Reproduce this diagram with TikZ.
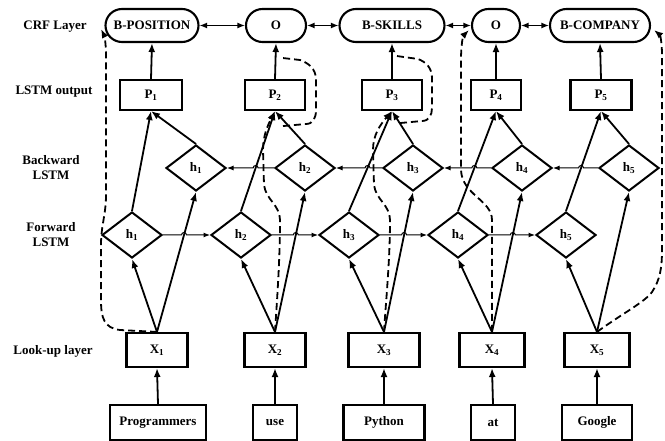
\documentclass[tikz,border=0pt]{standalone}
\usepackage{fontspec}
\setmainfont{Liberation Serif}
\usetikzlibrary{shapes.geometric,arrows.meta,calc,intersections}
\begin{document}
\begin{tikzpicture}[x=1pt,y=-1pt,
  every node/.style={font=\fontsize{13}{15}\selectfont\bfseries},
  box/.style={draw,line width=2.1pt,inner sep=0pt},
  crf/.style={draw,line width=2.1pt,rounded corners=16.5pt,minimum height=33pt,inner sep=0pt},
  dia/.style={draw,diamond,line width=2pt,minimum width=60pt,minimum height=46pt,inner sep=0pt,aspect=1.3},
  arr/.style={line width=1.8pt,-{Latex[length=9pt,width=7pt]}},
  thinarr/.style={line width=1pt,-{Latex[length=6.5pt,width=5pt]}},
  dbl/.style={line width=1.4pt,{Latex[length=7.5pt,width=6pt]}-{Latex[length=7.5pt,width=6pt]}},
  dsh/.style={line width=1.8pt,dash pattern=on 7pt off 4pt},
  dsharr/.style={dsh,-{Latex[length=9pt,width=7pt]}},
  lbl/.style={align=center}
]
\useasboundingbox (0,0) rectangle (665,441);

% layer labels
\node[lbl] (lcrf) at (55,27) {CRF Layer};
\node[lbl] (lout) at (54,92) {LSTM output};
\node[lbl] (lbwd) at (51,168) {Backward\\LSTM};
\node[lbl] (lfwd) at (51,235) {Forward\\LSTM};
\node[lbl] (llook) at (53,351) {Look-up layer};

% words
\node[box,minimum width=96pt,minimum height=35pt] (w1) at (158,422.5) {Programmers};
\node[box,minimum width=44pt,minimum height=35pt] (w2) at (275,422.5) {use};
\node[box,minimum width=81pt,minimum height=35pt] (w3) at (384,422.5) {Python};
\node[box,minimum width=44pt,minimum height=35pt] (w4) at (493,422.5) {at};
\node[box,minimum width=70pt,minimum height=35pt] (w5) at (597,422.5) {Google};

% look-up
\node[box,minimum width=61pt,minimum height=34pt] (x1) at (157,350) {X\textsubscript{1}};
\node[box,minimum width=61pt,minimum height=34pt] (x2) at (275,350) {X\textsubscript{2}};
\node[box,minimum width=71pt,minimum height=34pt] (x3) at (384,350) {X\textsubscript{3}};
\node[box,minimum width=65pt,minimum height=34pt] (x4) at (492,350) {X\textsubscript{4}};
\node[box,minimum width=65pt,minimum height=34pt] (x5) at (597,350) {X\textsubscript{5}};

% forward LSTM
\node[dia] (f1) at (132,235) {h\textsubscript{1}};
\node[dia] (f2) at (241,235) {h\textsubscript{2}};
\node[dia] (f3) at (349,235) {h\textsubscript{3}};
\node[dia] (f4) at (458,235) {h\textsubscript{4}};
\node[dia] (f5) at (566,235) {h\textsubscript{5}};

% backward LSTM
\node[dia] (b1) at (196,168) {h\textsubscript{1}};
\node[dia] (b2) at (305,168) {h\textsubscript{2}};
\node[dia] (b3) at (413,168) {h\textsubscript{3}};
\node[dia] (b4) at (522,168) {h\textsubscript{4}};
\node[dia] (b5) at (629,168) {h\textsubscript{5}};

% LSTM output
\node[box,minimum width=62pt,minimum height=30pt] (p1) at (151,95) {P\textsubscript{1}};
\node[box,minimum width=60pt,minimum height=30pt] (p2) at (275,95) {P\textsubscript{2}};
\node[box,minimum width=60pt,minimum height=30pt] (p3) at (392,95) {P\textsubscript{3}};
\node[box,minimum width=50pt,minimum height=30pt] (p4) at (496,95) {P\textsubscript{4}};
\node[box,minimum width=61pt,minimum height=30pt] (p5) at (601,95) {P\textsubscript{5}};

% CRF
\node[crf,minimum width=93pt] (c1) at (152,25.5) {B-POSITION};
\node[crf,minimum width=60pt] (c2) at (276,25.5) {O};
\node[crf,minimum width=105pt] (c3) at (392,25.5) {B-SKILLS};
\node[crf,minimum width=48pt] (c4) at (496,25.5) {O};
\node[crf,minimum width=100pt] (c5) at (600,25.5) {B-COMPANY};

% solid connectors
\foreach \i in {1,...,5}{
  \draw[arr] (w\i.north) -- (x\i.south);
  \draw[arr] (x\i.north) -- (f\i.south);
  \draw[arr] (x\i.north) -- (b\i.south);
  \draw[arr] (f\i.north) -- (p\i.south);
  \draw[arr] (b\i.north) -- (p\i.south);
  \draw[arr] (p\i.north) -- (c\i.south);
}

% CRF links
\draw[dbl] (c1.east) -- (c2.west);
\draw[dbl] (c2.east) -- (c3.west);
\draw[dbl] (c3.east) -- (c4.west);
\draw[dbl] (c4.east) -- (c5.west);

% recurrent links with hops
\foreach \i/\j in {1/2,2/3,3/4,4/5}{
  \path[name path=hf] (f\i.east) -- (f\j.west);
  \path[name path=cf] (x\i.north) -- (b\i.south);
  \path[name intersections={of=hf and cf,by=jf}];
  \draw[thinarr] (f\i.east) -- ($(jf)+(-2.5,0)$) arc[start angle=180,end angle=360,radius=2.5] -- (f\j.west);
  \path[name path=hb] (b\j.west) -- (b\i.east);
  \path[name path=cb] (f\j.north) -- (p\j.south);
  \path[name intersections={of=hb and cb,by=jb}];
  \draw[thinarr] (b\j.west) -- ($(jb)+(2.5,0)$) arc[start angle=0,end angle=-180,radius=2.5] -- (b\i.east);
}

% dashed paths
\draw[dsharr] (x1.north) -- (120,330) .. controls (104,328) and (101,318) .. (101,300)
  -- (101,245) .. controls (101,225) and (106,215) .. (106,195) -- (106,55)
  .. controls (106,42) and (104,35) .. (101,29);

\draw[dsharr] (x2.north) .. controls (277,300) and (280,260) .. (280,220)
  .. controls (280,205) and (266,200) .. (264,185) -- (263,150)
  .. controls (263,135) and (268,125) .. (p2.south);
\draw[dsh] ($(p2.south)+(8,15)$) -- (306,124) .. controls (313,124) and (316,118) .. (316,110)
  -- (316,80) .. controls (316,68) and (308,63) .. (300,60) -- ($(c2.south)+(7,15)$);

\draw[dsharr] (x3.north) .. controls (386,300) and (390,260) .. (390,220)
  .. controls (390,205) and (376,200) .. (374,185) -- (373,150)
  .. controls (373,135) and (380,125) .. (p3.south);
\draw[dsh] ($(p3.south)+(8,12)$) -- (422,121) .. controls (429,121) and (432,115) .. (432,108)
  -- (432,78) .. controls (432,68) and (426,62) .. (418,59) -- ($(c3.south)+(5,13)$);

\draw[dsharr] (x4.north) -- (492,220) .. controls (492,200) and (462,195) .. (461,170)
  -- (461,60) .. controls (461,45) and (463,36) .. (469,30);

\draw[dsharr] (x5.north) .. controls (620,315) and (645,302) .. (652,292)
  .. controls (660,280) and (662,268) .. (662,250) -- (662,55)
  .. controls (662,42) and (660,35) .. (654,30);
\end{tikzpicture}
\end{document}
